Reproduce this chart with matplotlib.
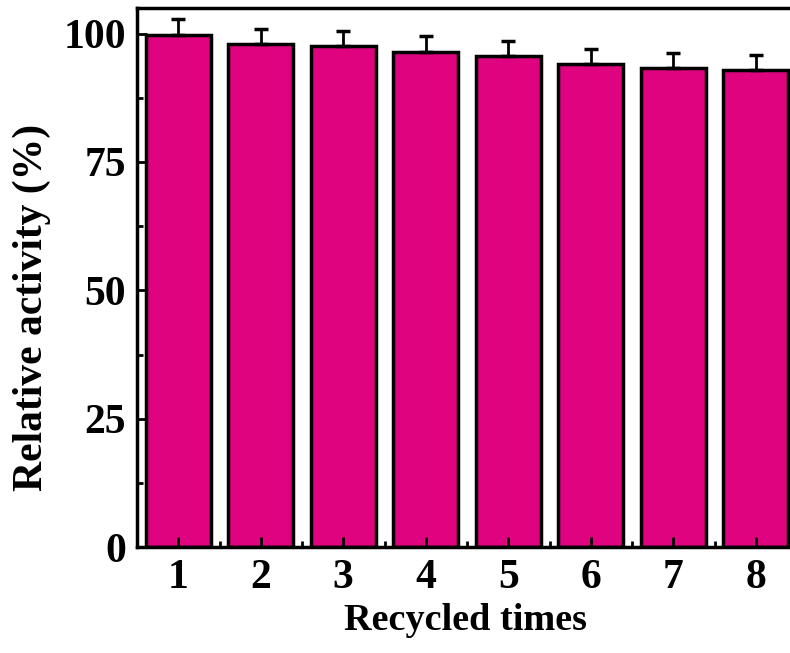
import matplotlib.pyplot as plt
from matplotlib.ticker import MultipleLocator

cycles = [1, 2, 3, 4, 5, 6, 7, 8]
activity = [99.8, 98.0, 97.6, 96.5, 95.6, 94.0, 93.4, 92.9]
err_up = [3.0, 3.0, 3.0, 3.0, 3.0, 3.0, 2.9, 3.0]

plt.rcParams['font.family'] = ['Liberation Serif', 'DejaVu Serif']
plt.rcParams['font.weight'] = 'bold'

fig = plt.figure(figsize=(7.9, 6.53), dpi=100)
ax = fig.add_axes([137 / 790, 1 - 547 / 653, 660 / 790, 539 / 653])

ax.bar(cycles, activity, width=0.79, color='#E0037F', edgecolor='black', linewidth=2.5,
       yerr=[[0] * len(cycles), err_up], capsize=5,
       error_kw=dict(elinewidth=2, capthick=2.5, ecolor='black'))

ax.set_xlim(0.5, 8.5)
ax.set_ylim(0, 105)
ax.xaxis.set_major_locator(MultipleLocator(1))
ax.xaxis.set_minor_locator(MultipleLocator(0.5))
ax.yaxis.set_major_locator(MultipleLocator(25))
ax.yaxis.set_minor_locator(MultipleLocator(12.5))
ax.tick_params(which='both', direction='in', width=2, labelsize=30)
ax.tick_params(which='major', length=7)
ax.tick_params(which='minor', length=4)
ax.tick_params(axis='x', pad=9)
ax.tick_params(axis='y', pad=8)
for s in ax.spines.values():
    s.set_linewidth(2.5)

ax.set_xlabel('Recycled times', fontsize=27.5, fontweight='bold', va='top')
ax.xaxis.set_label_coords(0.498, -0.104)
ax.set_ylabel('Relative activity (%)', fontsize=30, fontweight='bold')
ax.yaxis.set_label_coords(-0.13, 0.445)

fig.savefig('out.png', dpi=100)
